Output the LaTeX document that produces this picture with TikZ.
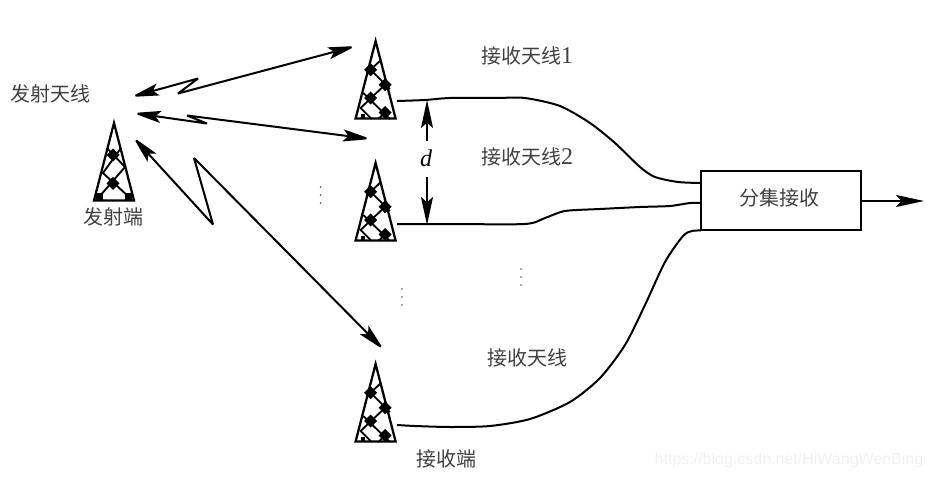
\documentclass[tikz,border=0pt]{standalone}
\usepackage{fontspec}
\setmainfont{Liberation Serif}
\newfontfamily\cjk{Noto Sans CJK SC}
\usetikzlibrary{arrows.meta}
\definecolor{inktext}{gray}{0.25}
\tikzset{
  x=0.75pt,y=-0.75pt,
  line join=miter,
  lnk/.style={draw=black,line width=1.5pt,{Stealth[length=21pt,width=9pt,inset=4pt]}-{Stealth[length=21pt,width=9pt,inset=4pt]}},
  onearrow/.style={draw=black,line width=1.5pt,-{Stealth[length=21pt,width=9pt,inset=4pt]}},
  wire/.style={draw=black,line width=1.5pt,line join=round},
  lbl/.style={inner sep=0pt,text=inktext,font=\fontsize{15pt}{17pt}\selectfont\cjk},
  dotmark/.style={circle,fill=black!70,inner sep=0pt,minimum size=1.3pt},
  cell/.style={fill=black},
  mast/.style={draw=black,line width=1.7pt,fill=white},
  rung/.style={draw=black,line width=1.4pt},
  recvant/.pic={
    \draw[mast] (0,3) -- (-20,80.5) -- (20,80.5) -- cycle;
    \draw[rung] (5,22.3) -- (-5,31.7) -- (14.3,51)
      (9.5,46.7) -- (-15,70) -- (-4,81)
      (-12.3,55) -- (14.3,81)
      (9.5,74.3) -- (2.7,81);
    \foreach \p/\q in {-5/31.7,9.5/46.7,-5/60,9.5/74.5}
      \fill[cell] (\p-6.5,\q) -- (\p,\q-6.5) -- (\p+6.5,\q) -- (\p,\q+6.5) -- cycle;
    \fill[cell] (-15,76) rectangle (-11,81);
  },
  sendant/.pic={
    \draw[mast] (0,3) -- (-20,80.5) -- (20,80.5) -- cycle;
    \draw[rung] (-7,28) -- (11,47) -- (-15,77)
      (7,28) -- (-11,53) -- (15,77);
    \foreach \p/\q in {-1/35,-1/63.3}
      \fill[cell] (\p-6.5,\q) -- (\p,\q-6.5) -- (\p+6.5,\q) -- (\p,\q+6.5) -- cycle;
    \fill[cell] (-18,73) rectangle (-11,81);
    \fill[cell] (11,73) rectangle (18,81);
  }
}
\begin{document}
\begin{tikzpicture}
\useasboundingbox (0,0) rectangle (932,478);

% antennas
\coordinate (txapex) at (114,120);
\coordinate (rxa) at (375.6,38);
\coordinate (rxb) at (375.6,160);
\coordinate (rxc) at (375.6,361);
\pic at (txapex) {sendant};
\pic at (rxa) {recvant};
\pic at (rxb) {recvant};
\pic at (rxc) {recvant};

% receiver box
\node[draw=black,line width=1.6pt,minimum width=120pt,minimum height=44.25pt,inner sep=0pt] (combiner) at (781,200.5) {};
\node[lbl] (combinerlabel) at (779,198) {分集接收};

% link ends
\coordinate (aS) at (131,97);
\coordinate (aK1) at (198,78.5);
\coordinate (aK2) at (178,93.5);
\coordinate (aE) at (356,46);
\coordinate (bS) at (133,113);
\coordinate (bK1) at (207,123.5);
\coordinate (bK2) at (187,115.5);
\coordinate (bE) at (371,139);
\coordinate (cS) at (133,137);
\coordinate (cK1) at (213,224.5);
\coordinate (cK2) at (194,158);
\coordinate (cE) at (384,350);
\path[lnk,miter limit=4] (aS) -- (aK1) -- (aK2) -- (aE);
\path[lnk,miter limit=4] (bS) -- (bK1) -- (bK2) -- (bE);
\path[lnk,miter limit=4] (cS) -- (cK1) -- (cK2) -- (cE);

% feed lines
\coordinate (wa) at (397,101);
\coordinate (wb) at (397,224);
\coordinate (wc) at (397,425);
\coordinate (wai) at (701,183);
\coordinate (wbi) at (701,203);
\coordinate (wci) at (701,230.5);
\draw[wire] plot[smooth,tension=0.45] coordinates {(wa) (425,100) (450,98) (495,98) (525,98) (560,106) (590,123) (615,143) (640,167) (655,177) (678,182) (wai)};
\draw[wire] plot[smooth,tension=0.45] coordinates {(wb) (450,224) (525,224) (545,218) (565,211) (600,209) (640,207) (670,206) (690,203) (wbi)};
\draw[wire] plot[smooth,tension=0.45] coordinates {(wc) (415,426) (450,427) (490,426) (530,419) (570,402) (600,378) (625,345) (645,305) (665,262) (683,236) (692,231) (wci)};

% separation marker
\coordinate (dtop) at (427,100);
\coordinate (dup) at (427,141);
\coordinate (ddown) at (427,177);
\coordinate (dbot) at (427,225);
\path[onearrow] (dup) -- (dtop);
\path[onearrow] (ddown) -- (dbot);
\node[inner sep=0pt,font=\fontsize{18pt}{20pt}\selectfont\itshape] (dlabel) at (426,158) {d};

% output
\coordinate (outend) at (924,201);
\path[onearrow] (combiner.east |- outend) -- (outend);

% labels
\node[lbl] (txant) at (51,94) {发射天线};
\node[lbl] (txend) at (113,217) {发射端};
\node[lbl] (rx1) at (527,56) {接收天线\fontspec{Liberation Serif}\fontsize{18pt}{18pt}\selectfont 1};
\node[lbl] (rx2) at (527,157) {接收天线\fontspec{Liberation Serif}\fontsize{18pt}{18pt}\selectfont 2};
\node[lbl] (rx3) at (527,358) {接收天线};
\node[lbl] (rxend) at (446,459) {接收端};

% ellipses
\foreach \n/\cx/\cy in {p/320.5/195,q/402/297,r/521/277}
  \foreach \k in {-8,0,8}
    \node[dotmark] (\n\k) at (\cx,\cy+\k) {};

% watermark
\node[inner sep=0pt,text=black!6,font=\fontsize{12pt}{14pt}\selectfont\fontspec{Liberation Sans}] (mark) at (789,460) {https://blog.csdn.net/HiWangWenBing};
\end{tikzpicture}
\end{document}
